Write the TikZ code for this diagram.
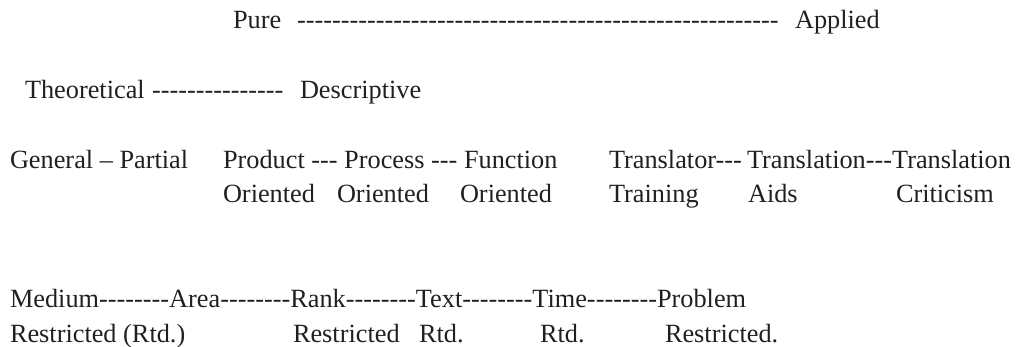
\documentclass[tikz,border=0pt]{standalone}
\usepackage{fontspec}
\newfontfamily\bodyfont{Liberation Serif}
\definecolor{ink}{HTML}{231F20}
\begin{document}
\begin{tikzpicture}[x=1pt,y=-1pt,
  lbl/.style={anchor=base west,inner sep=0pt,outer sep=0pt,text=ink,
    font=\bodyfont\fontsize{26.3}{30}\selectfont}]
\useasboundingbox (0,0) rectangle (1016,347);
% top level: pure vs applied
\node[lbl] (pure)    at (233,29) {Pure};
\node[lbl] (pa)      at (297,29) {-------------------------------------------------------};
\node[lbl] (applied) at (795,29) {Applied};
% second level
\node[lbl] (theo) at (25,99)  {Theoretical};
\node[lbl] (td)   at (152,99) {---------------};
\node[lbl] (desc) at (300,99) {Descriptive};
% third level
\node[lbl] (genpart) at (10,168.5)  {General – Partial};
\node[lbl] (ppf)     at (223,168.5) {Product --- Process --- Function};
\node[lbl] (trtr)    at (609,168.5) {Translator---};
\node[lbl] (trans)   at (747,168.5) {Translation---Translation};
\node[lbl] (or1) at (223,203) {Oriented};
\node[lbl] (or2) at (337,203) {Oriented};
\node[lbl] (or3) at (460,203) {Oriented};
\node[lbl] (trng) at (609,203) {Training};
\node[lbl] (aids) at (748,203) {Aids};
\node[lbl] (crit) at (896,203) {Criticism};
% restrictions
\node[lbl] (restr) at (10,307.5) {Medium--------Area--------Rank--------Text--------Time--------Problem};
\node[lbl] (r1) at (10,342)  {Restricted (Rtd.)};
\node[lbl] (r2) at (293,342) {Restricted};
\node[lbl] (r3) at (419,342) {Rtd.};
\node[lbl] (r4) at (540,342) {Rtd.};
\node[lbl] (r5) at (665,342) {Restricted.};
\end{tikzpicture}
\end{document}
